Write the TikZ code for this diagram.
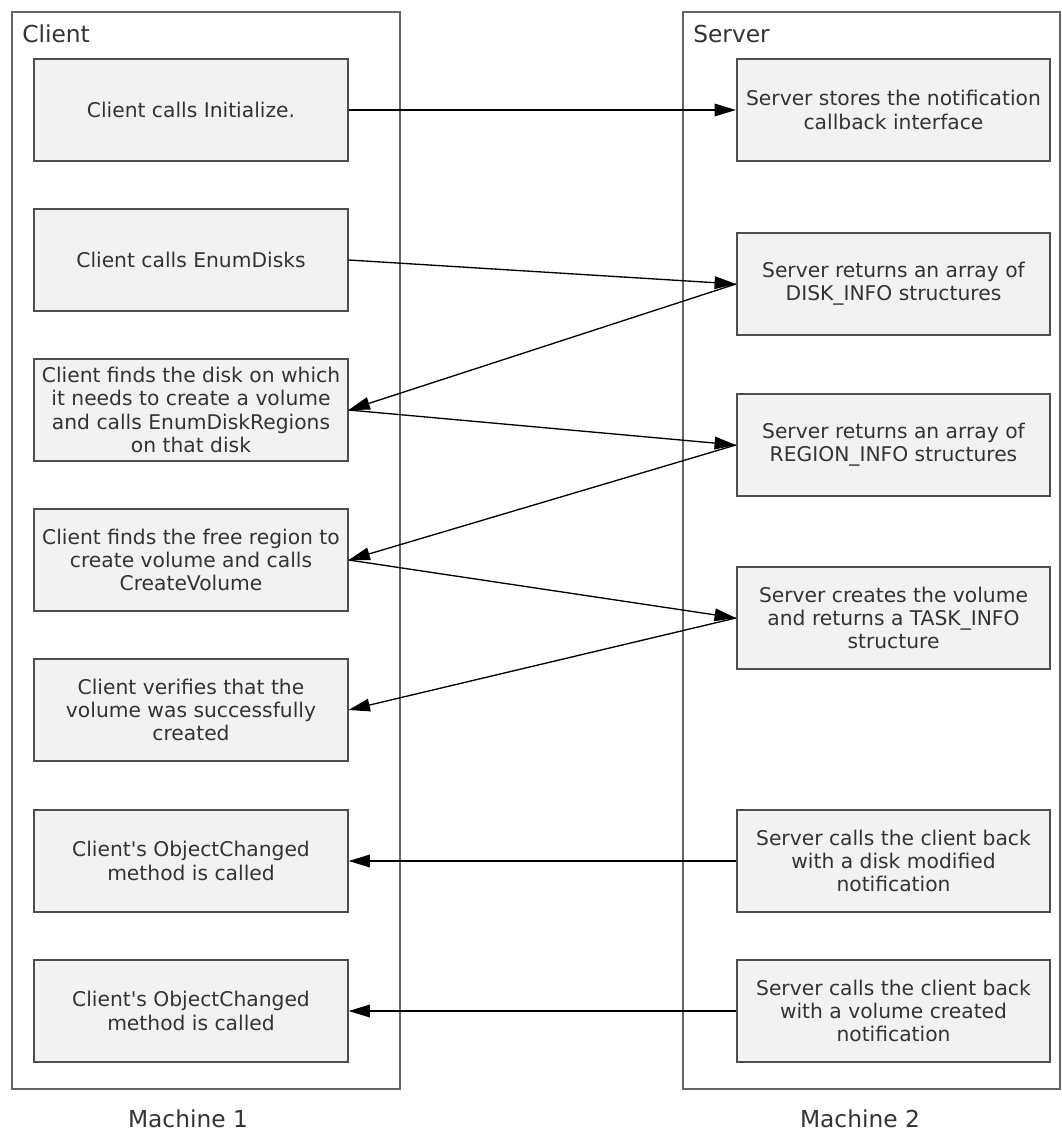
\documentclass[tikz,border=0pt]{standalone}
\usepackage{fontspec}
\setmainfont{DejaVu Sans}
\usetikzlibrary{arrows.meta, positioning}
\definecolor{boxfill}{HTML}{F2F2F2}
\definecolor{boxline}{HTML}{4D4D4D}
\definecolor{frameline}{HTML}{666666}
\definecolor{textgray}{HTML}{333333}

\begin{document}
\begin{tikzpicture}[x=0.75pt, y=-0.75pt,
  stepbox/.style={draw=boxline, fill=boxfill, line width=1.4pt, minimum width=235pt,
    minimum height=77pt, inner sep=0pt, align=center, text=textgray,
    font=\fontsize{15.2}{17.5}\selectfont},
  machine/.style={draw=frameline, line width=1.3pt},
  caption/.style={text=textgray, font=\fontsize{17.5}{21}\selectfont, inner sep=0pt},
  msg/.style={-{Triangle[length=16pt, width=9.5pt]}, line width=1pt, black}
]
\useasboundingbox (0,0) rectangle (1061,1131);

% the two machines
\draw[machine] (12,12) rectangle (400,1089);
\draw[machine] (683,12) rectangle (1060,1089);
\node[caption, anchor=base west] (clientlbl) at (22,43) {Client};
\node[caption, anchor=base west] (serverlbl) at (693,43) {Server};
\node[caption, anchor=base] (machine1) at (188,1127) {Machine 1};
\node[caption, anchor=base] (machine2) at (860,1127) {Machine 2};

% client steps
\node[stepbox] (c1) at (191,110) {Client calls Initialize.};
\node[stepbox] (c2) at (191,260) {Client calls EnumDisks};
\node[stepbox] (c3) at (191,410) {Client finds the disk on which\\it needs to create a volume\\and calls EnumDiskRegions\\on that disk};
\node[stepbox] (c4) at (191,560) {Client finds the free region to\\create volume and calls\\CreateVolume};
\node[stepbox] (c5) at (191,710) {Client verifies that the\\volume was successfully\\created};
\node[stepbox] (c6) at (191,861) {Client\textquotesingle s ObjectChanged\\method is called};
\node[stepbox] (c7) at (191,1011) {Client\textquotesingle s ObjectChanged\\method is called};

% server steps
\node[stepbox] (s1) at (893.5,110) {Server stores the notification\\callback interface};
\node[stepbox] (s2) at (893.5,284) {Server returns an array of\\DISK\_INFO structures};
\node[stepbox] (s3) at (893.5,445) {Server returns an array of\\REGION\_INFO structures};
\node[stepbox] (s4) at (893.5,618) {Server creates the volume\\and returns a TASK\_INFO\\structure};
\node[stepbox] (s5) at (893.5,861) {Server calls the client back\\with a disk modified\\notification};
\node[stepbox] (s6) at (893.5,1011) {Server calls the client back\\with a volume created\\notification};

% messages
\draw[msg] (c1.east) -- (s1.west);
\draw[msg] (c2.east) -- (s2.west);
\draw[msg] (s2.west) -- (c3.east);
\draw[msg] (c3.east) -- (s3.west);
\draw[msg] (s3.west) -- (c4.east);
\draw[msg] (c4.east) -- (s4.west);
\draw[msg] (s4.west) -- (c5.east);
\draw[msg] (s5.west) -- (c6.east);
\draw[msg] (s6.west) -- (c7.east);
\end{tikzpicture}
\end{document}
